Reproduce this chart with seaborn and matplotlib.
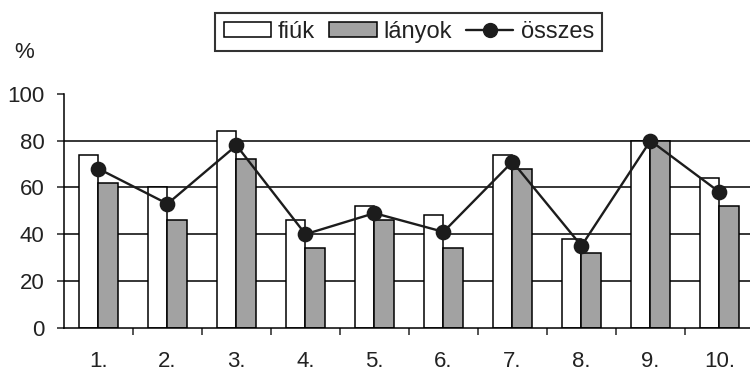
import matplotlib
matplotlib.use('Agg')
import matplotlib.pyplot as plt
import pandas as pd
import seaborn as sns
import numpy as np
from matplotlib.patches import Patch
from matplotlib.lines import Line2D

kerdesek = ['1.', '2.', '3.', '4.', '5.', '6.', '7.', '8.', '9.', '10.']
fiuk = [74, 60, 84, 46, 52, 48, 74, 38, 80, 64]
lanyok = [62, 46, 72, 34, 46, 34, 68, 32, 80, 52]
osszes = [68, 53, 78, 40, 49, 41, 71, 35, 80, 58]

sns.set_style('white')
plt.rcParams['font.family'] = ['Liberation Sans', 'DejaVu Sans']
plt.rcParams['font.size'] = 15.5

# long form a seabornnak
df = pd.DataFrame({
    'kérdés': kerdesek * 2,
    'érték': fiuk + lanyok,
    'nem': ['fiúk'] * 10 + ['lányok'] * 10,
})
df_ossz = pd.DataFrame({'kérdés': kerdesek, 'összes': osszes})

fig = plt.figure(figsize=(7.5, 3.74), dpi=100)
ax = fig.add_axes([0.0853, 0.1238, 0.92, 0.625])

sns.barplot(data=df, x='kérdés', y='érték', hue='nem', order=kerdesek,
            palette=['white', '#a2a2a2'], edgecolor='black', linewidth=1.1,
            width=0.565, gap=0, legend=False, ax=ax)
sns.pointplot(data=df_ossz, x='kérdés', y='összes', order=kerdesek,
              color='#1c1c1c', markers='o', markersize=10, linewidth=1.7,
              ax=ax)

ax.set_ylim(0, 100)
ax.set_xlim(-0.5, 9.5)
ax.set_yticks([0, 20, 40, 60, 80, 100])
ax.set_xlabel('')
ax.set_ylabel('')

# rácsvonalak 20-80 között
ax.set_axisbelow(True)
ax.yaxis.grid(True, color='black', linewidth=1.1)
ax.yaxis.get_gridlines()[-1].set_visible(False)
ax.yaxis.get_gridlines()[0].set_visible(False)

for s in ['top', 'right']:
    ax.spines[s].set_visible(False)
for s in ['left', 'bottom']:
    ax.spines[s].set_linewidth(1.1)
    ax.spines[s].set_color('black')

ax.tick_params(axis='y', direction='out', length=5, width=1.1, pad=9,
               left=True, colors='#222222', labelsize=16)
ax.set_xticks(np.arange(0.5, 9.5, 1), minor=True)
ax.tick_params(axis='x', which='minor', direction='out', length=5,
               width=1.1, bottom=True)
ax.tick_params(axis='x', which='major', length=0, pad=17, colors='#222222',
               labelsize=16)

fig.text(0.032, 0.86, '%', ha='center', va='center', color='#222222',
         fontsize=16)

handles = [
    Patch(facecolor='white', edgecolor='black', linewidth=1.1),
    Patch(facecolor='#a2a2a2', edgecolor='black', linewidth=1.1),
    Line2D([], [], color='#1c1c1c', marker='o', markersize=10, linewidth=1.7),
]
leg = fig.legend(handles, ['fiúk', 'lányok', 'összes'], loc='center',
                 bbox_to_anchor=(0.545, 0.914), ncol=3, frameon=True,
                 fancybox=False, edgecolor='black', handlelength=2.0,
                 handleheight=0.6, handletextpad=0.3, columnspacing=0.6,
                 borderpad=0.35, borderaxespad=0, fontsize=17)
leg.get_frame().set_linewidth(1.5)
for t in leg.get_texts():
    t.set_color('#222222')

fig.savefig('out.png', dpi=100)
